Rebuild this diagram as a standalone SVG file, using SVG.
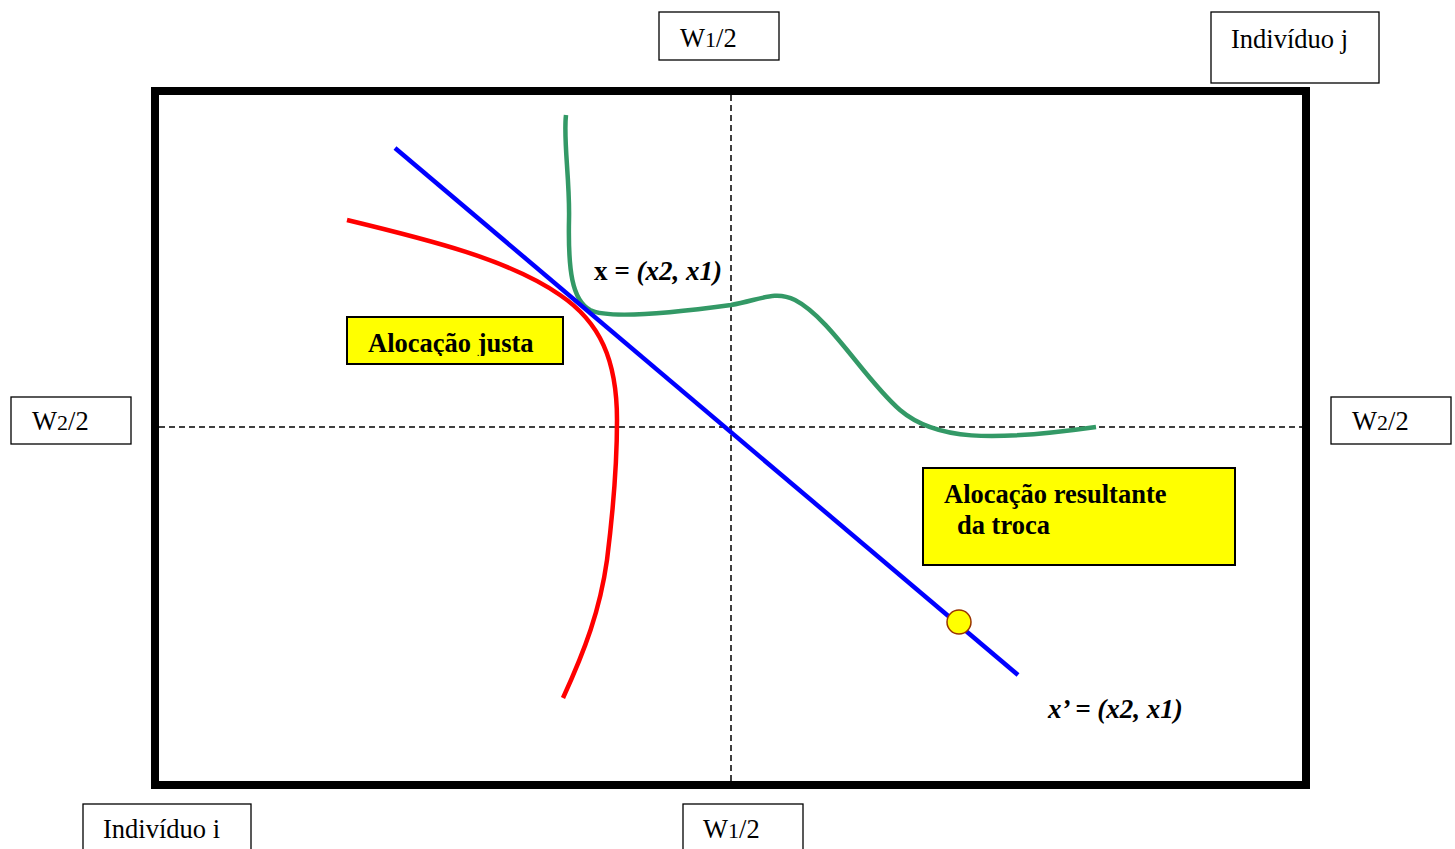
<svg xmlns="http://www.w3.org/2000/svg" width="1455" height="849" viewBox="0 0 1455 849">
<style>
.lbl{fill:#fff;stroke:#000;stroke-width:1.3}
.ybox{fill:#ffff00;stroke:#000;stroke-width:2}
text{font-family:'Liberation Serif','DejaVu Serif',serif;fill:#000}
.t{font-size:26.5px}
.b{font-size:26.5px;font-weight:bold}
.bi{font-size:27px;font-weight:bold;font-style:italic}
.dash{stroke:#000;stroke-width:1.5;stroke-dasharray:6,4;fill:none}
.curve{fill:none;stroke-width:4.5;stroke-linecap:butt}
</style>
<defs>
<clipPath id="clipJ"><rect x="347" y="317" width="216" height="39"/></clipPath>
</defs>
<rect width="1455" height="849" fill="#fff"/>
<g id="frame">
<rect x="155" y="91" width="1151" height="694" fill="none" stroke="#000" stroke-width="8"/>
</g>
<g id="axes">
<line class="dash" x1="731" y1="95" x2="731" y2="781"/>
<line class="dash" x1="159" y1="427" x2="1302" y2="427"/>
</g>
<g id="connectors">
<path id="red-curve" class="curve" stroke="#ff0000" d="M347,220 C430,240 510,260 560,295 C600,322 617,360 617,420 C617,470 612,520 607,560 C600,610 585,650 563,698"/>
<path id="green-curve" class="curve" stroke="#339966" d="M566,115 C563,140 570,180 569,220 C568,270 572,300 590,310 C610,320 680,312 731,305 C760,300 775,290 795,300 C830,318 865,380 900,410 C935,440 990,442 1096,427"/>
<line id="budget-line" class="curve" stroke="#0000ff" x1="395" y1="148" x2="1018" y2="675"/>
</g>
<g id="point-xprime">
<circle cx="959" cy="622" r="12" fill="#ffff00" stroke="#993300" stroke-width="1.5"/>
</g>
<g id="label-w1-top">
<rect class="lbl" x="659" y="12" width="120" height="48"/>
<text class="t" x="680" y="47">W<tspan font-size="22">1</tspan>/2</text>
</g>
<g id="label-ind-j">
<rect class="lbl" x="1211" y="12" width="168" height="71"/>
<text class="t" x="1231" y="48">Indivíduo j</text>
</g>
<g id="label-w2-left">
<rect class="lbl" x="11" y="397" width="120" height="47"/>
<text class="t" x="32" y="430">W<tspan font-size="22">2</tspan>/2</text>
</g>
<g id="label-w2-right">
<rect class="lbl" x="1331" y="397" width="120" height="47"/>
<text class="t" x="1352" y="430">W<tspan font-size="22">2</tspan>/2</text>
</g>
<g id="label-ind-i">
<rect class="lbl" x="83" y="804" width="168" height="52"/>
<text class="t" x="103" y="838">Indivíduo i</text>
</g>
<g id="label-w1-bottom">
<rect class="lbl" x="683" y="804" width="120" height="52"/>
<text class="t" x="703" y="838">W<tspan font-size="22">1</tspan>/2</text>
</g>
<g id="box-justa">
<rect class="ybox" x="347" y="317" width="216" height="47"/>
<text class="b" x="368" y="352" clip-path="url(#clipJ)">Alocação justa</text>
</g>
<g id="box-resultante">
<rect class="ybox" x="923" y="468" width="312" height="97"/>
<text class="b" x="944" y="503">Alocação resultante</text>
<text class="b" x="957" y="534">da troca</text>
</g>
<g id="label-x">
<text class="bi" x="594" y="280"><tspan font-style="normal">x</tspan> = (x2, x1)</text>
</g>
<g id="label-xprime">
<text class="bi" x="1048" y="718">x’ = (x2, x1)</text>
</g>
</svg>
